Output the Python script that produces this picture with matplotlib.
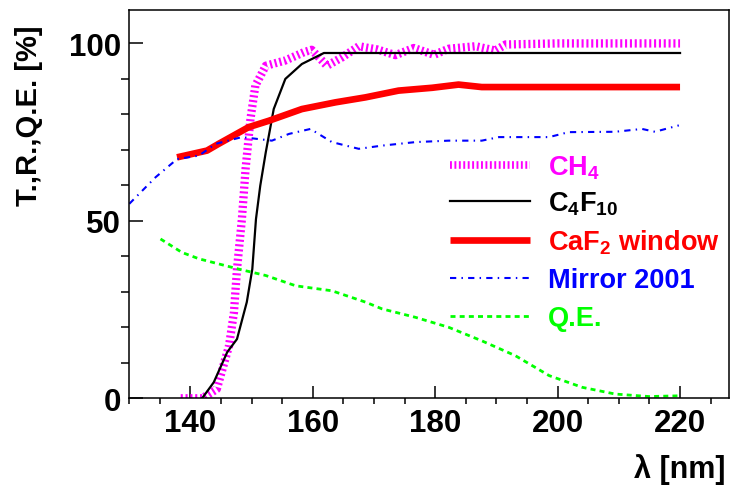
import matplotlib
matplotlib.use("Agg")
import matplotlib.pyplot as plt
from matplotlib.lines import Line2D

# figure size in pixels (dpi 100)
W, H = 731, 489

# CH4 transmission
ch4_x = [138.4, 141.9, 144.3, 146.3, 147.1, 147.6, 148.4, 149.0, 149.8, 150.6,
         152.3, 155.5, 158.5, 159.8, 162.3, 164.8, 167.5, 170.5, 173.5, 176.5,
         179.8, 182.2, 186.6, 189.8, 191.5, 200.0, 210.0, 220.0]
ch4_y = [0.0, 0.0, 2.6, 14.8, 24.2, 36.4, 50.5, 64.6, 78.7, 88.1,
         93.7, 95.2, 97.5, 98.2, 93.7, 96.1, 99.2, 98.3, 96.7, 98.7,
         96.8, 98.5, 99.2, 98.0, 99.7, 100.0, 100.0, 100.0]

# C4F10 transmission
c4f10_x = [141.9, 143.8, 146.0, 147.6, 149.2, 150.1, 150.7, 151.4, 152.3, 153.6,
           155.5, 158.2, 161.8, 170.0, 190.0, 220.0]
c4f10_y = [0.0, 4.5, 13.0, 16.7, 27.1, 36.4, 50.5, 59.9, 69.3, 81.5,
           90.0, 94.2, 97.3, 97.3, 97.3, 97.3]

# CaF2 window transmission
caf2_x = [137.8, 142.7, 144.6, 149.5, 152.8, 158.2, 163.7, 168.6, 174.0, 179.5,
          183.8, 187.6, 200.0, 220.0]
caf2_y = [67.9, 69.8, 71.7, 76.4, 78.2, 81.5, 83.4, 84.8, 86.7, 87.5,
          88.4, 87.7, 87.7, 87.7]

# Mirror 2001 reflectivity
mirror_x = [130.0, 134.3, 137.8, 141.4, 144.1, 148.4, 153.3, 156.1, 159.6, 163.1,
            167.5, 171.3, 176.8, 182.2, 187.6, 190.4, 198.6, 201.8, 209.4, 213.8,
            215.9, 219.8]
mirror_y = [54.8, 62.3, 67.4, 68.4, 71.7, 73.6, 72.6, 74.5, 75.9, 72.2,
            70.3, 71.2, 72.2, 72.6, 72.6, 73.6, 73.6, 75.0, 75.1, 75.9,
            75.1, 76.9]

# quantum efficiency
qe_x = [135.1, 138.6, 141.4, 147.9, 152.3, 157.2, 163.1, 168.6, 171.3, 176.8,
        182.2, 187.6, 193.1, 198.6, 204.0, 209.4, 214.9, 219.8]
qe_y = [44.9, 41.1, 39.3, 36.4, 34.6, 31.7, 30.3, 27.1, 25.2, 22.8,
        20.0, 16.2, 12.0, 6.4, 3.1, 1.2, 0.5, 0.7]

x_ticks = [140, 160, 180, 200, 220]
y_ticks = [0, 50, 100]

MAGENTA = "#ff00ff"
RED = "#ff0000"
BLUE = "#0000ff"
GREEN = "#00ff00"

CH4_STYLE = dict(color=MAGENTA, lw=6, ls=(0, (0.25, 0.33)), dash_capstyle="butt")
C4F10_STYLE = dict(color="black", lw=1.6, ls="-")
CAF2_STYLE = dict(color=RED, lw=4.8, ls="-", solid_capstyle="butt")
MIRROR_STYLE = dict(color=BLUE, lw=1.5, ls=(0, (3, 2.5, 0.7, 2.5)))
QE_STYLE = dict(color=GREEN, lw=2, ls=(0, (1.8, 1.5)))


def fig_xy(px, py):
    """pixel position (from top left) to figure fraction"""
    return px / W, 1 - py / H


def main():
    plt.rcParams["font.family"] = ["Liberation Sans", "DejaVu Sans"]
    plt.rcParams["font.weight"] = "bold"
    plt.rcParams["mathtext.fontset"] = "custom"
    plt.rcParams["mathtext.rm"] = "Liberation Sans:bold"
    plt.rcParams["mathtext.it"] = "Liberation Sans:bold"
    plt.rcParams["mathtext.bf"] = "Liberation Sans:bold"

    fig = plt.figure(figsize=(W / 100, H / 100), dpi=100)
    ax = fig.add_axes([129.3 / W, 1 - 399.3 / H, (729 - 129.3) / W, (399.3 - 10.7) / H])

    ax.plot(ch4_x, ch4_y, **CH4_STYLE)
    ax.plot(c4f10_x, c4f10_y, **C4F10_STYLE)
    ax.plot(caf2_x, caf2_y, **CAF2_STYLE)
    ax.plot(mirror_x, mirror_y, **MIRROR_STYLE)
    ax.plot(qe_x, qe_y, **QE_STYLE)

    ax.set_xlim(130, 228)
    ax.set_ylim(0, 109.5)
    ax.set_xticks(x_ticks)
    ax.set_xticks(range(130, 229, 5), minor=True)
    ax.set_yticks(y_ticks)
    ax.set_yticks(range(0, 110, 10), minor=True)
    ax.tick_params(axis="both", direction="in", labelsize=22.5, width=1.1)
    ax.tick_params(axis="x", which="major", length=9, pad=7)
    ax.tick_params(axis="x", which="minor", length=4.5, width=1.1)
    ax.tick_params(axis="y", which="major", length=10, pad=6)
    ax.tick_params(axis="y", which="minor", length=5.5, width=1.1)
    for spine in ax.spines.values():
        spine.set_linewidth(1.1)

    fig.text(*fig_xy(29, 25), "T.,R.,Q.E. [%]", rotation=90, ha="center", va="top",
             fontsize=21, fontweight="bold")
    fig.text(*fig_xy(726, 470), "λ [nm]", ha="right", va="center",
             fontsize=22, fontweight="bold")

    # legend drawn by hand, rows at these pixel heights
    entries = [
        ("CH$_4$", MAGENTA, CH4_STYLE, 166),
        ("C$_4$F$_{10}$", "black", C4F10_STYLE, 202),
        ("CaF$_2$ window", RED, CAF2_STYLE, 241),
        ("Mirror 2001", BLUE, MIRROR_STYLE, 279),
        ("Q.E.", GREEN, QE_STYLE, 317),
    ]
    for label, color, style, py in entries:
        x0, y0 = fig_xy(450, py)
        x1, _ = fig_xy(530, py)
        st = dict(style)
        if label.startswith("CH"):
            st["lw"] = 5.5
        fig.add_artist(Line2D([x0, x1], [y0, y0], transform=fig.transFigure, **st))
        fig.text(*fig_xy(548, py + 9.5), label, color=color, ha="left", va="baseline",
                 fontsize=19.5, fontweight="bold")

    fig.savefig("out.png", dpi=100)


if __name__ == "__main__":
    main()
